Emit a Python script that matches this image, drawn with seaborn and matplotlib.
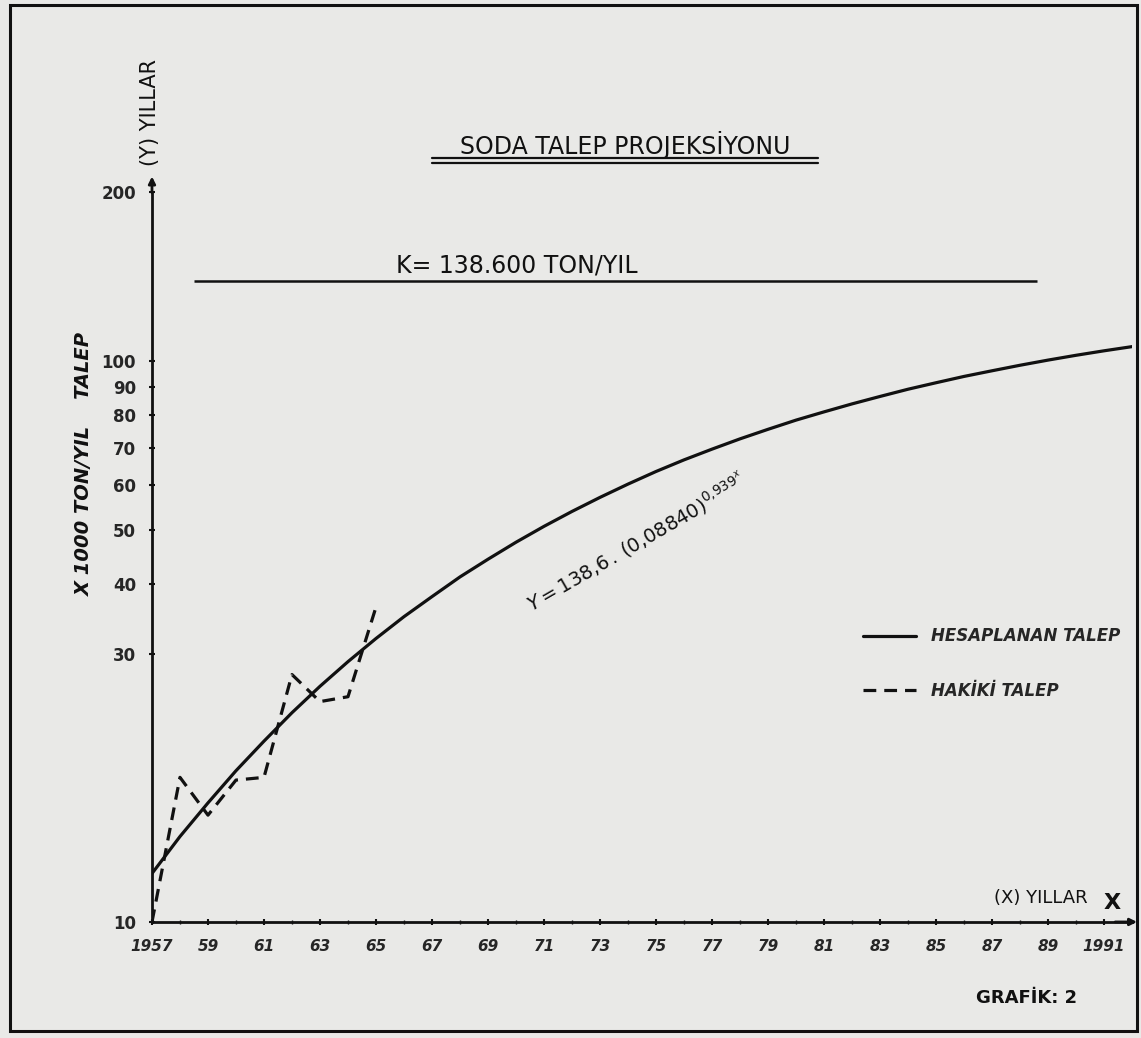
import numpy as np
import pandas as pd
import matplotlib
matplotlib.use("Agg")
import matplotlib.pyplot as plt
import seaborn as sns
from matplotlib.lines import Line2D
from matplotlib.patches import Rectangle

# values (x 1000 ton / yil)
calc_years = list(range(1957, 1993))
calc_talep = [12.2, 14.2, 16.3, 18.6, 21.0, 23.6, 26.3, 29.1, 32.0, 35.0,
              38.0, 41.2, 44.3, 47.5, 50.7, 53.9, 57.1, 60.3, 63.5, 66.6,
              69.6, 72.6, 75.5, 78.4, 81.1, 83.8, 86.4, 89.0, 91.4, 93.8,
              96.0, 98.2, 100.3, 102.3, 104.2, 106.0]
real_years = [1957, 1958, 1959, 1960, 1961, 1962, 1963, 1964, 1965]
real_talep = [10.0, 18.1, 15.5, 17.9, 18.1, 27.6, 24.7, 25.2, 36.4]
K = 138.6
k_start, k_end = 1958.5, 1988.6
ytick_vals = [10, 30, 40, 50, 60, 70, 80, 90, 100, 200]
xtick_vals = list(range(1957, 1992, 2))
xtick_labels = ["1957"] + [str(y)[2:] for y in xtick_vals[1:-1]] + ["1991"]

paper = "#e9e9e7"
ink = "#111111"

sns.set_style("ticks")
plt.rcParams["font.family"] = ["DejaVu Sans"]
plt.rcParams["mathtext.fontset"] = "dejavusans"

fig = plt.figure(figsize=(11.41, 10.38), dpi=100, facecolor=paper)
ax = fig.add_axes([0.1332, 0.1118, 0.8589, 0.7033], facecolor=paper)

calc = pd.DataFrame({"yil": calc_years, "talep": calc_talep})
real = pd.DataFrame({"yil": real_years, "talep": real_talep})

sns.lineplot(data=calc, x="yil", y="talep", ax=ax, color=ink, lw=2.3,
             label="HESAPLANAN TALEP")
sns.lineplot(data=real, x="yil", y="talep", ax=ax, color=ink, lw=2.3,
             label="HAKİKİ TALEP")
ax.lines[1].set_dashes([4, 2.5])
ax.hlines(K, k_start, k_end, color=ink, lw=1.8)

ax.set_yscale("log")
ax.set_xlim(1957, 1992)
ax.set_ylim(10, 200)
ax.set_yticks(ytick_vals)
ax.set_yticklabels([str(v) for v in ytick_vals])
ax.yaxis.set_minor_locator(matplotlib.ticker.NullLocator())
ax.set_xticks(xtick_vals)
ax.set_xticklabels(xtick_labels)
ax.set_xticks(range(1957, 1992), minor=True)
ax.tick_params(axis="both", which="major", direction="inout", length=5,
               width=1.5, color=ink, labelsize=11, pad=10)
ax.tick_params(axis="y", pad=9, labelsize=12)
ax.tick_params(axis="x", which="minor", direction="inout", length=3,
               width=1, color=ink)
for lab in ax.get_xticklabels():
    lab.set_fontweight("bold")
    lab.set_fontstyle("italic")
for lab in ax.get_yticklabels():
    lab.set_fontweight("bold")
ax.set_xlabel("")
ax.set_ylabel("")

sns.despine(ax=ax)
for s in ["left", "bottom"]:
    ax.spines[s].set_linewidth(2)
    ax.spines[s].set_color(ink)

# axis arrows
ax.annotate("", xy=(0, 1.025), xytext=(0, 0.995), xycoords="axes fraction",
            arrowprops=dict(arrowstyle="-|>", color=ink, lw=2))
ax.annotate("", xy=(1.008, 0), xytext=(0.98, 0), xycoords="axes fraction",
            arrowprops=dict(arrowstyle="-|>", color=ink, lw=2))

legend = ax.legend(loc="upper left", bbox_to_anchor=(0.71, 0.424), frameon=False,
                   handlelength=3.2, labelspacing=2.2, handletextpad=0.9,
                   prop=dict(size=12, weight="bold", style="italic"))

ax.annotate("K= 138.600 TON/YIL", xy=(1965.7, K), xytext=(0, 3),
            textcoords="offset points", fontsize=17, ha="left", va="bottom",
            color=ink)
ax.text(1974.3, 47.5, r"$Y = 138{,}6\,.\,(0{,}08840)^{0{,}939^{x}}$",
        rotation=30, fontsize=14, ha="center", va="center", color=ink)
ax.text(1991.3, 10.8, "X", fontsize=16, fontweight="bold", ha="center",
        va="center", color=ink)
ax.text(1990.4, 11.04, "(X) YILLAR", fontsize=13, ha="right", va="center",
        color=ink)

fig.text(625 / 1141, 1 - 145 / 1038, "SODA TALEP PROJEKSİYONU", fontsize=17,
         ha="center", va="center", color=ink)
for yy in (158, 163):
    fig.add_artist(Line2D([432 / 1141, 818 / 1141], [1 - yy / 1038] * 2,
                          color=ink, lw=1.6))
fig.text(84 / 1141, 1 - 464 / 1038, "X 1000 TON/YIL    TALEP", rotation=90,
         fontsize=14, fontweight="bold", fontstyle="italic", ha="center",
         va="center", color=ink)
fig.text(150 / 1141, 1 - 112 / 1038, "(Y) YILLAR", rotation=90, fontsize=15,
         ha="center", va="center", color=ink)
fig.text(1027 / 1141, 1 - 998 / 1038, "GRAFİK: 2", fontsize=13,
         fontweight="bold", ha="center", va="center", color=ink)

fig.add_artist(Rectangle((10 / 1141, 1 - 1031 / 1038), 1127 / 1141,
                         1026 / 1038, transform=fig.transFigure, fill=False,
                         edgecolor=ink, lw=2.2))

fig.savefig("out.png", dpi=100, facecolor=paper)
